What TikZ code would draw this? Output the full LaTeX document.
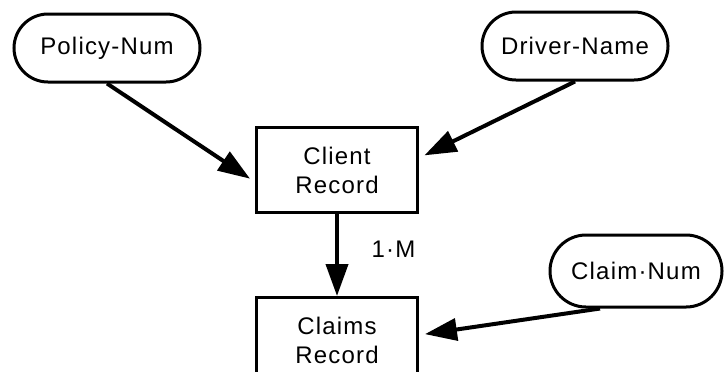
\documentclass[tikz,border=0pt]{standalone}
\usepackage{fontspec}
\setmainfont{Liberation Sans}[LetterSpace=5]
\usetikzlibrary{arrows.meta,shapes.misc}

\begin{document}
\begin{tikzpicture}[x=0.5pt,y=-0.5pt,
  font=\fontsize{12}{14.5}\selectfont,
  attr/.style={draw,rounded rectangle,line width=1.5pt,
    minimum width=93pt,minimum height=34pt,inner sep=0pt},
  rec/.style={draw,rectangle,line width=1.5pt,align=center,
    minimum width=80.5pt,minimum height=42.5pt,inner sep=0pt},
  link/.style={line width=2pt,shorten >=3pt,
    -{Triangle[length=16pt,width=11pt]}}]
 \useasboundingbox (0,0) rectangle (726,371);
 % attribute pills
 \node[attr] (pn) at (107,48) {Policy-Num};
 \node[attr] (dn) at (575,46) {Driver-Name};
 \node[attr,minimum width=86pt,minimum height=36pt] (cn) at (636,271) {Claim·Num};
 % records
 \node[rec] (client) at (337,170) {Client\\Record};
 \node[rec] (claims) at (337,340) {Claims\\Record};
 % links
 \draw[link] (pn.south) -- ([yshift=-6pt]client.west);
 \draw[link] (dn.south) -- ([yshift=6pt]client.east);
 \draw[link] ([xshift=-18pt]cn.south) -- ([yshift=2.5pt]claims.east);
 \draw[link,shorten >=0pt] (client.south) -- node[right=13pt,yshift=3pt] {1·M} (claims.north);
\end{tikzpicture}
\end{document}
